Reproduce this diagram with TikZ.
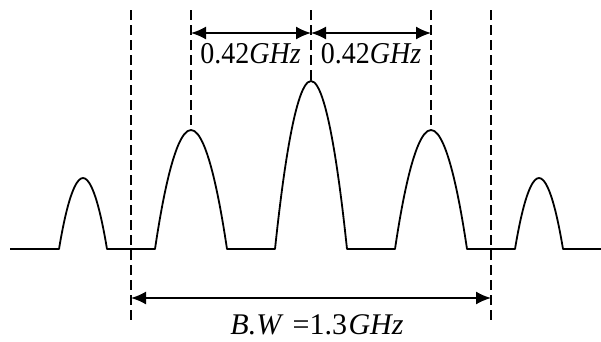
\documentclass[tikz,border=0pt]{standalone}
\usepackage{fontspec}
\setmainfont{Liberation Serif}
\usetikzlibrary{arrows.meta}
\tikzset{
  curve/.style={line width=1.8pt},
  guide/.style={line width=1.8pt, dash pattern=on 10pt off 5pt},
  dim/.style={line width=1.8pt, {Latex[length=15pt,width=13pt]}-{Latex[length=15pt,width=13pt]}},
  lbl/.style={font=\fontsize{28}{30}\selectfont, inner sep=0pt, yscale=1.08},
  biglbl/.style={font=\fontsize{30}{32}\selectfont, inner sep=0pt}
}
\begin{document}
\begin{tikzpicture}[x=1pt,y=-1pt]
\useasboundingbox (0,0) rectangle (601,341);
% coordinates
\coordinate (L0) at (10,249);
\coordinate (R0) at (601,249);
\coordinate (t1) at (131,10); \coordinate (b1) at (131,322);
\coordinate (t5) at (491,10); \coordinate (b5) at (491,322);
\coordinate (t2) at (191,10); \coordinate (p2) at (191,130);
\coordinate (t3) at (311,10); \coordinate (p3) at (311,81);
\coordinate (t4) at (431,10); \coordinate (p4) at (431,130);
\coordinate (a2) at (191,33); \coordinate (a3) at (311,33); \coordinate (a4) at (431,33);
\coordinate (c1) at (131,298); \coordinate (c5) at (491,298);
% spectrum
\draw[curve,line join=round] (L0) -- (59,249) parabola bend (83,178) (107,249)
  -- (155,249) parabola bend (p2) (227,249)
  -- (275,249) parabola bend (p3) (347,249)
  -- (395,249) parabola bend (p4) (467,249)
  -- (515,249) parabola bend (539,178) (563,249) -- (R0);
% guide lines
\draw[guide] (t1) -- (b1);
\draw[guide] (t5) -- (b5);
\draw[guide] (t2) -- (p2);
\draw[guide] (t3) -- (p3);
\draw[guide] (t4) -- (p4);
% dimension arrows
\draw[dim] (a2) -- (a3);
\draw[dim] (a3) -- (a4);
\draw[dim] (c1) -- (c5);
% labels
\node[lbl] (f1) at (250.5,54) {0.42\textit{GHz}};
\node[lbl] (f2) at (371,54) {0.42\textit{GHz}};
\node[biglbl] (bw) at (317,325) {\textit{B.W}\hspace{0.3em}=1.3\hspace{0.05em}\textit{GHz}};
\end{tikzpicture}
\end{document}
